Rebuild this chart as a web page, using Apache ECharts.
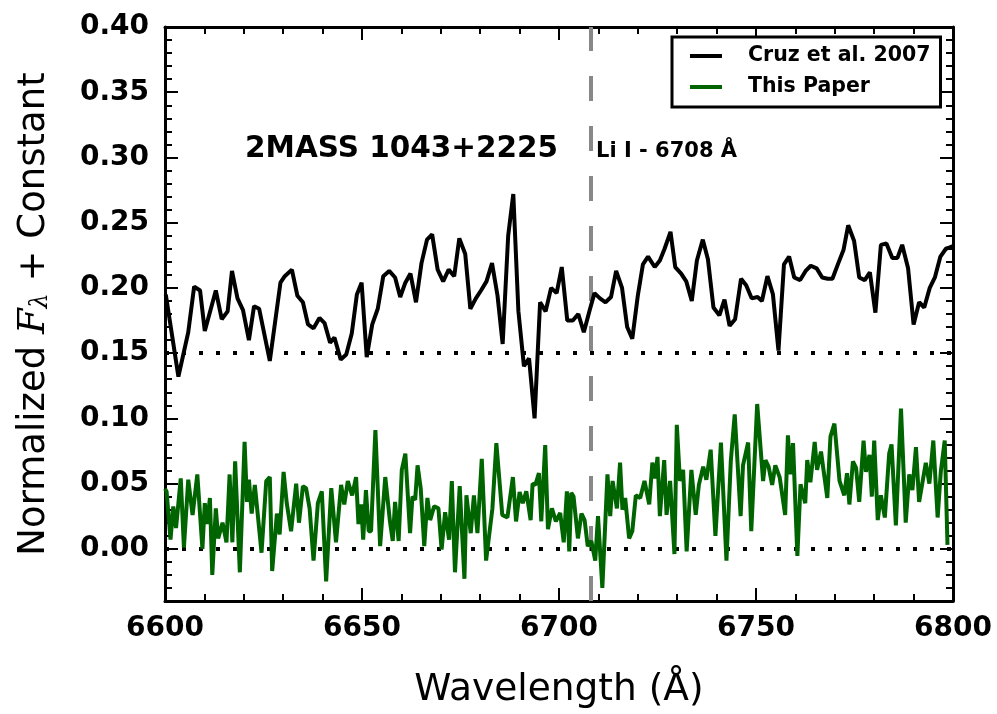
<!DOCTYPE html>
<html>
<head>
<meta charset="utf-8">
<script src="https://cdn.jsdelivr.net/npm/echarts@6/dist/echarts.min.js"></script>
<style>
  html, body { margin: 0; padding: 0; background: #fff; }
  #chart { width: 997px; height: 714px; }
</style>
</head>
<body>
<div id="chart"></div>
<script>
// Cruz et al. 2007 spectrum (offset by +0.15)
var cruzWave = [6600.2,6603.4,6605.9,6607.4,6608.9,6610.1,6612.9,6614.4,6615.9,6617.0,
  6618.4,6619.8,6621.3,6622.6,6623.9,6626.6,6629.3,6630.4,6632.2,6633.6,
  6635.0,6636.3,6637.7,6639.2,6640.5,6641.9,6643.0,6644.6,6646.0,6647.4,
  6648.7,6649.9,6651.2,6652.6,6654.0,6655.4,6656.9,6658.4,6659.7,6661.0,
  6662.3,6663.7,6665.1,6666.5,6667.8,6669.2,6670.6,6672.0,6673.4,6674.7,
  6676.2,6677.5,6678.9,6680.2,6681.6,6683.0,6684.4,6685.7,6687.1,6688.4,
  6689.7,6691.1,6692.4,6693.8,6695.2,6696.6,6698.0,6699.4,6700.7,6702.1,
  6703.5,6704.9,6706.3,6707.8,6709.0,6710.4,6711.8,6713.2,6714.5,6716.0,
  6717.3,6718.6,6720.0,6721.3,6722.6,6724.3,6725.6,6726.8,6728.3,6729.5,
  6731.0,6732.3,6733.7,6735.0,6736.5,6737.8,6739.2,6740.7,6742.0,6743.3,
  6744.7,6746.2,6747.5,6748.9,6750.4,6751.5,6752.9,6754.3,6755.7,6757.1,
  6758.4,6759.7,6761.2,6762.6,6763.9,6765.4,6766.8,6768.2,6769.4,6770.9,
  6772.2,6773.4,6774.9,6776.2,6777.6,6778.9,6780.3,6781.7,6783.1,6784.6,
  6785.9,6787.1,6788.6,6790.0,6791.4,6792.7,6794.1,6795.4,6796.8,6798.2,
  6799.2,6800.0];
var cruzFlux = [0.195,0.132,0.166,0.201,0.198,0.167,0.198,0.176,0.182,0.213,
  0.192,0.183,0.160,0.186,0.184,0.144,0.204,0.209,0.214,0.194,
  0.189,0.172,0.169,0.177,0.173,0.158,0.162,0.145,0.149,0.165,
  0.195,0.204,0.147,0.172,0.184,0.209,0.213,0.208,0.193,0.204,
  0.211,0.189,0.219,0.237,0.241,0.214,0.205,0.214,0.209,0.238,
  0.226,0.184,0.192,0.198,0.205,0.219,0.194,0.157,0.240,0.272,
  0.182,0.140,0.146,0.100,0.189,0.182,0.200,0.196,0.216,0.175,
  0.175,0.180,0.166,0.183,0.196,0.192,0.189,0.193,0.213,0.200,
  0.170,0.161,0.194,0.218,0.224,0.216,0.221,0.230,0.243,0.216,
  0.211,0.205,0.190,0.221,0.237,0.222,0.185,0.179,0.191,0.171,
  0.176,0.207,0.202,0.192,0.193,0.190,0.209,0.195,0.152,0.218,
  0.224,0.208,0.206,0.213,0.217,0.215,0.208,0.207,0.207,0.219,
  0.229,0.248,0.236,0.208,0.206,0.212,0.181,0.233,0.234,0.223,
  0.223,0.233,0.215,0.172,0.189,0.185,0.200,0.208,0.224,0.230,
  0.231,0.232];

// This paper spectrum
var paperWave = [6600.0,6600.4,6601.4,6602.1,6602.8,6604.0,6604.8,6605.9,6607.0,6608.2,6609.5,
  6610.1,6610.7,6611.4,6612.0,6612.9,6613.5,6614.6,6615.6,6616.4,6617.1,
  6617.8,6619.0,6620.2,6620.8,6621.3,6622.0,6622.8,6624.5,6625.7,6626.6,
  6627.2,6628.4,6629.1,6630.1,6630.9,6632.0,6633.3,6634.0,6635.0,6635.8,
  6636.7,6637.7,6638.8,6639.8,6640.9,6642.2,6643.4,6644.7,6645.5,6646.4,
  6647.5,6648.5,6649.1,6649.8,6650.3,6651.0,6651.7,
  6652.3,6653.4,6654.6,6655.9,6657.1,6657.8,6658.4,6659.3,6660.1,6661.0,
  6662.2,6662.8,6663.5,6664.1,6664.9,6665.8,6666.6,6667.3,6668.3,6669.4,
  6670.2,6671.1,6672.1,6672.8,6673.6,6674.8,6676.0,6676.5,6677.6,6678.4,
  6679.3,6680.4,6681.5,6683.1,6684.1,6685.6,6686.9,6688.3,6689.1,6690.0,
  6690.8,6691.7,6692.8,6693.3,6694.0,6694.9,6695.5,6696.5,6697.2,6698.2,
  6699.2,6700.3,6701.2,6702.0,
  6702.6,6703.1,6703.7,6704.8,6705.7,6706.5,6707.3,6708.2,6709.2,6709.9,
  6711.0,6712.3,6713.0,6713.6,6714.7,6715.5,6716.1,6716.8,6717.8,6718.6,
  6719.5,6720.6,6721.7,6722.9,6723.7,6724.4,6725.0,6725.6,6726.7,6727.3,
  6728.2,6729.3,6729.9,6730.7,6731.5,6732.4,6733.6,6734.7,6735.5,6736.6,
  6737.4,6738.5,6739.7,6741.1,6742.5,6743.6,6744.6,6746.1,6746.7,6748.0,
  6748.8,6750.3,
  6751.8,6752.4,6753.2,6754.1,6754.9,6756.0,6757.4,6758.1,6758.8,6759.4,
  6760.5,6761.3,6762.5,6763.0,6763.8,6764.9,6765.5,6766.5,6768.1,6768.9,
  6769.9,6771.2,6772.4,6773.1,6773.7,6774.6,6775.4,6776.2,6777.3,6777.9,
  6778.8,6779.4,6780.0,6780.9,6781.7,6782.7,6783.8,6784.4,6785.5,6786.8,
  6788.0,6788.9,6789.7,6790.6,6791.4,6792.0,6793.1,6794.0,6795.0,6796.1,
  6796.9,6797.9,6798.6];
var paperFlux = [0.046,0.044,0.007,0.0325,0.016,0.054,0.001,0.053,0.026,0.057,0.000,
  0.035,0.019,0.039,-0.020,0.031,0.008,0.020,0.005,0.057,0.005,
  0.067,-0.018,0.082,0.036,0.053,0.027,0.049,-0.003,0.052,0.055,
  -0.017,0.027,0.011,0.059,0.035,0.0135,0.050,0.020,0.048,0.0465,
  0.031,-0.009,0.035,0.044,-0.025,0.0465,0.005,0.049,0.034,0.052,
  0.041,0.055,0.019,0.034,0.007,0.045,0.0135,
  0.0135,0.091,0.002,0.055,0.021,0.006,0.036,0.006,0.0605,0.073,
  0.012,0.040,0.0375,0.064,0.0465,0.002,0.039,0.022,0.0325,0.031,
  -0.0005,0.028,0.007,0.052,-0.018,0.048,-0.023,0.041,0.012,0.041,
  0.012,0.069,-0.009,0.031,0.081,0.026,0.024,0.055,0.021,0.0435,
  0.035,0.044,0.022,0.050,0.049,0.058,0.021,0.0795,0.015,0.031,
  0.021,0.0275,0.005,0.044,
  -0.002,0.043,0.040,0.008,0.027,0.022,0.002,0.006,-0.009,0.025,
  -0.030,0.057,0.025,0.052,0.031,0.066,0.030,0.039,0.008,0.0135,
  0.041,0.039,0.052,0.034,0.066,0.054,0.0705,0.025,0.068,0.026,
  0.052,-0.004,0.095,0.052,0.0605,-0.002,0.0605,0.026,0.049,0.063,
  0.053,0.076,0.010,0.0815,-0.009,0.067,0.103,0.025,0.064,0.0815,
  0.0135,0.111,
  0.052,0.068,0.063,0.049,0.064,0.055,0.026,0.087,0.057,0.081,
  -0.0055,0.0495,0.035,0.068,0.051,0.082,0.0605,0.0745,0.039,0.086,
  0.096,0.052,0.041,0.058,0.034,0.067,0.062,0.036,0.083,0.059,
  0.072,0.040,0.083,0.022,0.041,0.024,0.073,0.080,0.018,0.1075,
  0.020,0.057,0.045,0.078,0.036,0.0465,0.066,0.050,0.083,0.024,
  0.059,0.083,0.003];

var seriesNames = ['Cruz et al. 2007', 'This Paper'];
var baseLevels = [0.15, 0.00];     // dotted continuum levels
var liWave = 6708;                  // Li I line
var xTicks = [6600, 6650, 6700, 6750, 6800];
var yTicks = [0.00, 0.05, 0.10, 0.15, 0.20, 0.25, 0.30, 0.35, 0.40];

var FONT = 'DejaVu Sans';

function zip(a, b) {
  var out = [];
  for (var i = 0; i < a.length; i++) out.push([a[i], b[i]]);
  return out;
}

var chart = echarts.init(document.getElementById('chart'));

var tickLine = { color: '#000', width: 2 };
var spine = { show: true, onZero: false, lineStyle: { color: '#000', width: 3 } };

function xAxisDef(pos, labels) {
  return {
    type: 'value', position: pos, min: 6600, max: 6800, interval: 50,
    axisLine: spine,
    axisTick: { show: true, inside: true, length: 13, lineStyle: tickLine },
    minorTick: { show: true, splitNumber: 5, length: 7, lineStyle: tickLine },
    splitLine: { show: false }, minorSplitLine: { show: false },
    axisLabel: labels ? {
      show: true, customValues: xTicks, margin: 14,
      formatter: function (v) { return String(v); },
      fontFamily: FONT, fontWeight: 'bold', fontSize: 28, color: '#000'
    } : { show: false }
  };
}

function yMajor(pos, labels) {
  return {
    type: 'value', position: pos, min: -0.04, max: 0.40,
    axisLine: spine,
    axisTick: { show: true, inside: true, length: 13, customValues: yTicks, lineStyle: tickLine },
    splitLine: { show: false },
    axisLabel: labels ? {
      show: true, customValues: yTicks, margin: 16,
      formatter: function (v) { return v.toFixed(2); },
      fontFamily: FONT, fontWeight: 'bold', fontSize: 28, color: '#000'
    } : { show: false }
  };
}

function yMinor(pos) {
  return {
    type: 'value', position: pos, min: -0.04, max: 0.40, interval: 0.01,
    axisLine: { show: false, onZero: false },
    axisTick: { show: true, inside: true, length: 7, lineStyle: tickLine },
    splitLine: { show: false },
    axisLabel: { show: false }
  };
}

var xBottom = xAxisDef('bottom', true);
xBottom.name = 'Wavelength (Å)';
xBottom.nameLocation = 'middle';
xBottom.nameGap = 70;
xBottom.nameTextStyle = { fontFamily: FONT, fontSize: 37.5, color: '#000' };

var yLeft = yMajor('left', true);
yLeft.name = 'Normalized {i|F}{s|λ} + Constant';
yLeft.nameLocation = 'middle';
yLeft.nameGap = 112;
yLeft.nameTextStyle = {
  fontFamily: FONT, fontSize: 37, color: '#000',
  rich: {
    i: { fontFamily: 'DejaVu Serif', fontStyle: 'italic', fontSize: 37, color: '#000' },
    s: { fontFamily: 'DejaVu Serif', fontStyle: 'italic', fontSize: 24, color: '#000', padding: [14, 0, 0, 0] }
  }
};

var option = {
  backgroundColor: '#fff',
  animation: false,
  grid: { left: 165, right: 44, top: 27, bottom: 111 },
  legend: {
    data: seriesNames,
    orient: 'vertical',
    left: 672, top: 37,
    padding: [8, 10, 9, 18],
    itemGap: 9,
    itemWidth: 32, itemHeight: 4,
    icon: 'rect',
    borderColor: '#000', borderWidth: 3, borderRadius: 0,
    backgroundColor: '#fff',
    textStyle: {
      fontFamily: FONT, fontWeight: 'bold', fontSize: 20.5, color: '#000',
      lineHeight: 22, padding: [0, 0, 0, 21]
    }
  },
  xAxis: [xBottom, xAxisDef('top', false)],
  yAxis: [yLeft, yMinor('left'), yMajor('right', false), yMinor('right')],
  graphic: [
    { type: 'text', left: 245, top: 134, z: 50,
      style: { text: '2MASS 1043+2225', fontFamily: FONT, fontWeight: 'bold', fontSize: 29.5, fill: '#000' } },
    { type: 'text', left: 596, top: 141, z: 50,
      style: { text: 'Li I - 6708 Å', fontFamily: FONT, fontWeight: 'bold', fontSize: 21, fill: '#000' } }
  ],
  series: [
    {
      name: seriesNames[1], type: 'line', xAxisIndex: 0, yAxisIndex: 0,
      data: zip(paperWave, paperFlux),
      showSymbol: false, symbol: 'none',
      lineStyle: { color: '#006400', width: 4 },
      itemStyle: { color: '#006400' },
      z: 3,
      markLine: {
        silent: true, symbol: 'none', z: 1,
        label: { show: false },
        lineStyle: { color: '#888', width: 4, type: [25, 25] },
        data: [{ xAxis: liWave }]
      }
    },
    {
      name: seriesNames[0], type: 'line', xAxisIndex: 0, yAxisIndex: 0,
      data: zip(cruzWave, cruzFlux),
      showSymbol: false, symbol: 'none',
      lineStyle: { color: '#000', width: 4 },
      itemStyle: { color: '#000' },
      z: 4,
      markLine: {
        silent: true, symbol: 'none', z: 1,
        label: { show: false },
        lineStyle: { color: '#000', width: 4, type: [4, 13] },
        data: baseLevels.map(function (v) { return { yAxis: v }; })
      }
    }
  ]
};

chart.setOption(option);
</script>
</body>
</html>
